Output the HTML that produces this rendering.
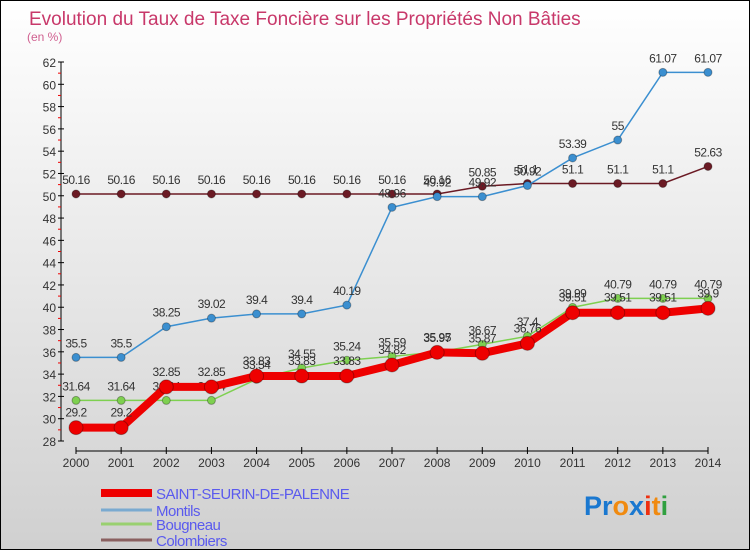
<!DOCTYPE html>
<html><head><meta charset="utf-8"><style>
body{margin:0}
#c{width:750px;height:550px;position:relative;box-sizing:border-box;border:1px solid #000;background:linear-gradient(#fff,#d0d0d0);font-family:"Liberation Sans",sans-serif;overflow:hidden}
</style></head><body>
<div id="c">
<svg id="s" width="750" height="550" style="position:absolute;left:0;top:0"></svg>
</div>
<script>
const years=[2000,2001,2002,2003,2004,2005,2006,2007,2008,2009,2010,2011,2012,2013,2014];
const yTicks=[28,30,32,34,36,38,40,42,44,46,48,50,52,54,56,58,60,62];
const saint=[29.2,29.2,32.85,32.85,33.83,33.83,33.83,34.82,35.95,35.87,36.76,39.51,39.51,39.51,39.9];
const montils=[35.5,35.5,38.25,39.02,39.4,39.4,40.19,48.96,49.92,49.92,50.92,53.39,55,61.07,61.07];
const bougneau=[31.64,31.64,31.64,31.64,33.54,34.55,35.24,35.59,35.97,36.67,37.4,39.99,40.79,40.79,40.79];
const colombiers=[50.16,50.16,50.16,50.16,50.16,50.16,50.16,50.16,50.16,50.85,51.1,51.1,51.1,51.1,52.63];
const NS="http://www.w3.org/2000/svg";
const s=document.getElementById('s');
const X=i=>75+i*(707-75)/14;
const Y=v=>440-(v-28)*(440-61)/34;
function el(t,a,name,txt){const e=document.createElementNS(NS,t);for(const k in a)e.setAttribute(k,a[k]);


if(txt!==undefined)e.textContent=txt;s.appendChild(e);return e;}
el('text',{x:28,y:24,'font-size':19,fill:'#c8386a'},'chart-title','Evolution du Taux de Taxe Foncière sur les Propriétés Non Bâties');
el('text',{x:26,y:40,'font-size':12,fill:'#d06090'},'y-unit','(en %)');
el('line',{x1:60,y1:61,x2:60,y2:440,stroke:'#000'},'y-axis');
yTicks.forEach(v=>{const y=Y(v);el('line',{x1:57,y1:y,x2:63,y2:y,stroke:'#000'},'y-tick');
if(v<62)el('line',{x1:57,y1:Y(v+1),x2:60,y2:Y(v+1),stroke:'#e00'},'y-minor-tick');
el('text',{x:55,y:y+5,'font-size':12,fill:'#333','text-anchor':'end'},'y-tick-label',v);});
el('line',{x1:X(0),y1:450,x2:X(14),y2:450,stroke:'#000'},'x-axis');
years.forEach((yr,i)=>{el('line',{x1:X(i),y1:446,x2:X(i),y2:453,stroke:'#000'},'x-tick');
el('text',{x:X(i),y:466,'font-size':12,fill:'#333','text-anchor':'middle'},'x-tick-label',yr);});
function series(d,col,w,r,name,lblDy){
el('polyline',{points:d.map((v,i)=>X(i)+','+Y(v)).join(' '),fill:'none',stroke:col,'stroke-width':w},name+'-line');
d.forEach((v,i)=>{el('circle',{cx:X(i),cy:Y(v),r:r,fill:col,stroke:'rgba(0,0,0,0.3)'},name+'-point');
el('text',{x:X(i),y:Y(v)+lblDy,'font-size':12,fill:'#333','text-anchor':'middle','letter-spacing':'-0.5'},name+'-value-label',v);});}
series(colombiers,'#6b1a24',1.5,4,'colombiers',-10);
series(montils,'#3b8fd0',1.5,4,'montils',-10);
series(bougneau,'#7ed050',1.5,4,'bougneau',-10);
series(saint,'#ee0000',8,7,'saint-seurin',-11);
const leg=[['SAINT-SEURIN-DE-PALENNE','#ee0000',8,492],['Montils','#7aaad0',3,509],['Bougneau','#99d070',3,523],['Colombiers','#8a6060',3,539]];
leg.forEach(l=>{el('line',{x1:100,y1:l[3],x2:151,y2:l[3],stroke:l[1],'stroke-width':l[2]},'legend-swatch');
el('text',{x:155,y:l[3]+6,'font-size':15,fill:'#5a5aee','letter-spacing':'-0.5'},'legend-entry',l[0]);});
const logo=el('text',{x:583,y:514,'font-size':27,'font-weight':'bold'},'proxiti-logo');
[['Pr','#1a78d0'],['o','#f08a10'],['x','#1a78d0'],['i','#ee3010'],['t','#f08a10'],['i','#30a040']].forEach(p=>{const t=document.createElementNS(NS,'tspan');t.setAttribute('fill',p[1]);t.textContent=p[0];logo.appendChild(t);});
</script>
</body></html>
